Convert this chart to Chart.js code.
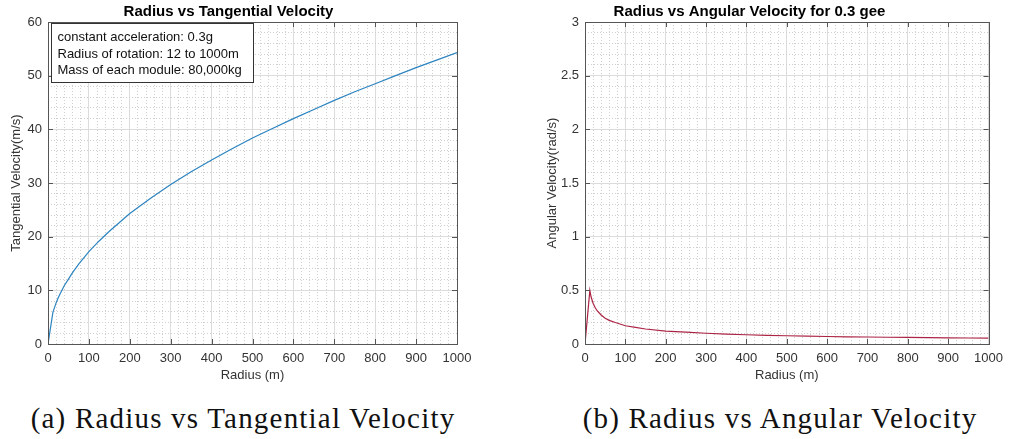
<!DOCTYPE html>
<html>
<head>
<meta charset="utf-8">
<script src="https://cdn.jsdelivr.net/npm/chart.js@4"></script>
<style>
body { margin: 0; background: #fff; width: 1010px; height: 439px; overflow: hidden; position: relative; }
.wrap { position: absolute; top: 0; width: 505px; height: 385px; }
#wrap-a { left: 0; }
#wrap-b { left: 505px; }
.cap { position: absolute; top: 404px; font-family: "Liberation Serif", serif; font-size: 29px; letter-spacing: 1.2px;
       color: #111; white-space: nowrap; transform: translateX(-50%); line-height: 1; }
</style>
</head>
<body>
<div class="wrap" id="wrap-a"><canvas id="chart-a"></canvas></div>
<div class="wrap" id="wrap-b"><canvas id="chart-b"></canvas></div>
<div class="cap" style="left:243px">(a) Radius vs Tangential Velocity</div>
<div class="cap" style="left:780px">(b) Radius vs Angular Velocity</div>
<script>
// radius (m)
var radius = [0, 12, 15, 20, 25, 30, 40, 50, 60, 75, 100, 125, 150, 200, 250, 300, 350,
    400, 450, 500, 550, 600, 650, 700, 750, 800, 850, 900, 950, 1000];
// tangential velocity (m/s)
var tanVelocity = [0, 5.9, 6.6, 7.7, 8.6, 9.4, 10.9, 12.1, 13.3, 14.9, 17.2, 19.2, 21.0, 24.3,
    27.1, 29.7, 32.1, 34.3, 36.4, 38.4, 40.2, 42.0, 43.7, 45.4, 47.0, 48.5, 50.0, 51.5, 52.9, 54.3];
// angular velocity (rad/s)
var angVelocity = [0, 0.50, 0.44, 0.38, 0.34, 0.31, 0.27, 0.24, 0.22, 0.20, 0.17, 0.155, 0.14, 0.12,
    0.11, 0.10, 0.092, 0.086, 0.081, 0.077, 0.073, 0.070, 0.067, 0.065, 0.063, 0.061, 0.059, 0.057, 0.056, 0.054];

var xTicks = [0, 100, 200, 300, 400, 500, 600, 700, 800, 900, 1000];
var tanTicks = [0, 10, 20, 30, 40, 50, 60];
var angTicks = [0, 0.5, 1, 1.5, 2, 2.5, 3];

var noteLines = ['constant acceleration: 0.3g', 'Radius of rotation: 12 to 1000m', 'Mass of each module: 80,000kg'];

Chart.defaults.font.family = '"Liberation Sans", Arial, sans-serif';
Chart.defaults.font.size = 13;
Chart.defaults.color = '#333';

function points(ys) {
    return radius.map((r, i) => ({ x: r, y: ys[i] }));
}

// box round the axes and inward tick marks, like matlab "box on"
var axesBox = {
    id: 'axesBox',
    afterDraw(chart) {
        const { ctx, chartArea: a } = chart;
        const xs = chart.scales.x, ys = chart.scales.y;
        ctx.save();
        ctx.strokeStyle = '#555';
        ctx.lineWidth = 1;
        ctx.beginPath();
        xs.ticks.forEach(t => {
            const px = Math.round(xs.getPixelForValue(t.value)) + 0.5;
            ctx.moveTo(px, a.bottom); ctx.lineTo(px, a.bottom - 5);
            ctx.moveTo(px, a.top); ctx.lineTo(px, a.top + 5);
        });
        ys.ticks.forEach(t => {
            const py = Math.round(ys.getPixelForValue(t.value)) + 0.5;
            ctx.moveTo(a.left, py); ctx.lineTo(a.left + 5, py);
            ctx.moveTo(a.right, py); ctx.lineTo(a.right - 5, py);
        });
        ctx.stroke();
        ctx.strokeRect(Math.round(a.left) + 0.5, Math.round(a.top) + 0.5,
            Math.round(a.right - a.left), Math.round(a.bottom - a.top));
        const note = chart.options.plugins.axesBox && chart.options.plugins.axesBox.lines;
        if (note) {
            const bx = Math.round(a.left) + 3.5, by = Math.round(a.top) + 1.5;
            ctx.fillStyle = '#fff';
            ctx.fillRect(bx, by, 202, 59);
            ctx.strokeStyle = '#333';
            ctx.strokeRect(bx, by, 202, 59);
            ctx.fillStyle = '#111';
            ctx.font = '13px "Liberation Sans", Arial, sans-serif';
            ctx.textBaseline = 'middle';
            note.forEach((s, i) => ctx.fillText(s, bx + 6, by + 14 + i * 16.5));
        }
        ctx.restore();
    }
};

function isMajor(v, step) {
    const r = v / step;
    return Math.abs(r - Math.round(r)) < 1e-6;
}

function makeChart(id, color, ys, yMax, yStep, yMinor, yTickList, title, yTitle, yWidth, yTitlePad, padRight, note) {
    return new Chart(document.getElementById(id), {
        type: 'line',
        data: {
            datasets: [{
                data: points(ys),
                borderColor: color,
                borderWidth: 1.2,
                pointRadius: 0,
                tension: 0,
                fill: false
            }]
        },
        options: {
            responsive: true,
            maintainAspectRatio: false,
            animation: false,
            layout: { padding: { left: 0, right: padRight, top: 0, bottom: 0 } },
            plugins: {
                legend: { display: false },
                tooltip: { enabled: false },
                title: {
                    display: true,
                    text: title,
                    color: '#000',
                    font: { size: 15, weight: 'bold' },
                    padding: { top: 3, bottom: 1 }
                },
                axesBox: { lines: note }
            },
            scales: {
                x: {
                    type: 'linear', min: 0, max: 1000,
                    afterBuildTicks: s => { s.ticks = xTicks.map(v => ({ value: v })); },
                    afterFit: s => { s.height = 41; },
                    ticks: { padding: 7, color: '#333', callback: v => String(v) },
                    grid: { color: '#dcdcdc', drawTicks: false },
                    border: { display: false },
                    title: { display: true, text: 'Radius (m)', color: '#333', padding: { top: 0, bottom: 2 } }
                },
                xm: {
                    type: 'linear', min: 0, max: 1000, position: 'bottom',
                    ticks: { display: false, stepSize: 20 },
                    afterFit: s => { s.height = 0; },
                    grid: {
                        drawTicks: false,
                        color: c => (c.tick && isMajor(c.tick.value, 100)) ? 'rgba(0,0,0,0)' : '#cfcfcf'
                    },
                    border: { display: false, dash: [1, 2] }
                },
                y: {
                    type: 'linear', min: 0, max: yMax,
                    afterBuildTicks: s => { s.ticks = yTickList.map(v => ({ value: v })); },
                    afterFit: s => { s.width = yWidth; },
                    ticks: { padding: 6, color: '#333', callback: v => String(v) },
                    grid: { color: '#dcdcdc', drawTicks: false },
                    border: { display: false },
                    title: { display: true, text: yTitle, color: '#333', padding: { top: yTitlePad, bottom: 0 } }
                },
                ym: {
                    type: 'linear', min: 0, max: yMax, position: 'left',
                    ticks: { display: false, stepSize: yMinor },
                    afterFit: s => { s.width = 0; },
                    grid: {
                        drawTicks: false,
                        color: c => (c.tick && isMajor(c.tick.value, yStep)) ? 'rgba(0,0,0,0)' : '#cfcfcf'
                    },
                    border: { display: false, dash: [1, 2] }
                }
            }
        },
        plugins: [axesBox]
    });
}

makeChart('chart-a', 'rgb(44,132,192)', tanVelocity, 60, 10, 2, tanTicks,
    'Radius vs Tangential Velocity', 'Tangential Velocity(m/s)', 48, 9, 48, noteLines);
makeChart('chart-b', 'rgb(172,36,68)', angVelocity, 3, 0.5, 0.1, angTicks,
    'Radius vs Angular Velocity for 0.3 gee', 'Angular Velocity(rad/s)', 80, 40, 16, null);
</script>
</body>
</html>
